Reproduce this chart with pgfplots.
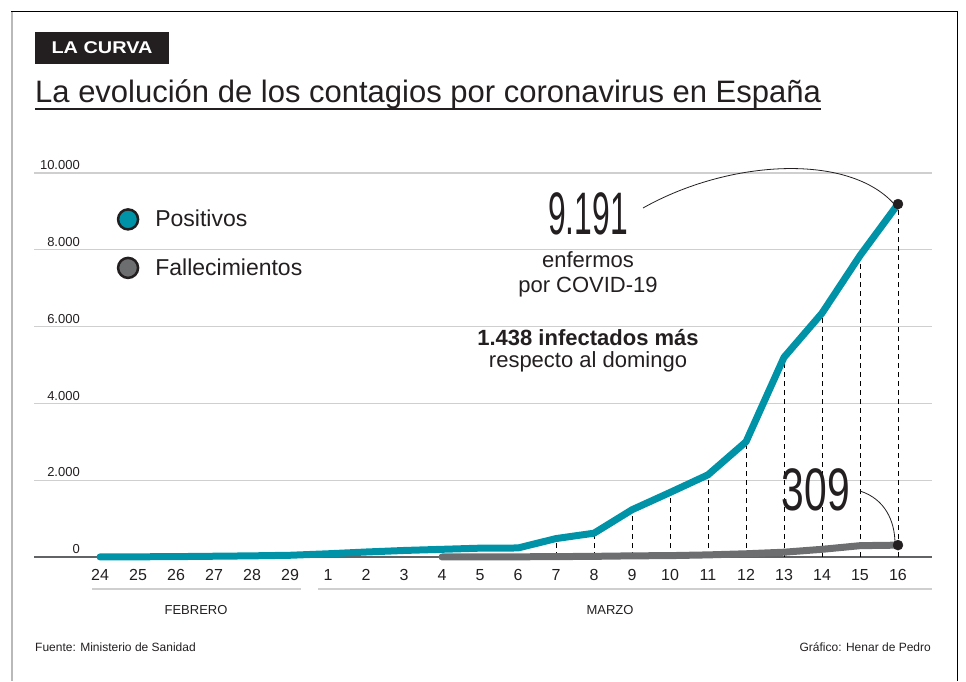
\documentclass[border=0pt]{standalone}
\usepackage{fontspec}
\setmainfont{Liberation Sans}
\usepackage{pgfplots}
\pgfplotsset{compat=1.18}
\definecolor{teal1}{HTML}{0093A7}
\definecolor{gris}{HTML}{6D6E70}
\definecolor{txt}{HTML}{231F20}
\definecolor{grid}{HTML}{CFCFCF}
\begin{document}
\begin{tikzpicture}[x=1pt,y=1pt]
\useasboundingbox (0,0) rectangle (966,681);
% frame
\draw[gray!55, line width=2pt] (12,670) -- (12,0);
\draw[black, line width=1pt] (11,669) -- (957,669) -- (957,0);
% header
\fill[txt] (35,617) rectangle (169,649);
\node[anchor=base, text=white, inner sep=0pt] at (102,627) {\scalebox{1.17}[1]{\bfseries\fontsize{17}{17}\selectfont LA CURVA}};
\node[anchor=base west, inner sep=0pt, text=txt, font=\fontsize{31}{31}\selectfont] (t) at (35,578) {La evolución de los contagios por coronavirus en España};
\draw[txt, line width=2pt] ([yshift=-6pt]t.base west) -- ([yshift=-6pt]t.base east);
\begin{axis}[
  at={(34pt,124pt)}, anchor=south west, scale only axis,
  width=898pt, height=384pt,
  xmin=-1.737, xmax=21.895, ymin=0, ymax=10000,
  clip=false, axis line style={draw=none},
  scaled y ticks=false,
  ymajorgrids, grid style={draw=grid, line width=1.3pt},
  ytick={0,2000,4000,6000,8000,10000},
  yticklabels={0,2.000,4.000,6.000,8.000,10.000},
  yticklabel style={anchor=south east, inner sep=0pt, xshift=46pt, yshift=3pt, text=txt, font=\fontsize{13}{13}\selectfont},
  xtick={0,...,21},
  xticklabels={24,25,26,27,28,29,1,2,3,4,5,6,7,8,9,10,11,12,13,14,15,16},
  xticklabel style={anchor=north, inner sep=0pt, yshift=-12pt, text=txt, font=\fontsize{16}{16}\selectfont},
  major tick length=0pt,
  legend style={at={(0.092,0.909)}, anchor=north west, draw=none, fill=none, font=\fontsize{23}{23}\selectfont, text=txt, row sep=26pt, inner sep=0pt,
    nodes={inner xsep=0pt}},
  legend cell align=left,
  /tikz/every odd column/.append style={column sep=16pt},
]
% baseline
\draw[gris!90!black, line width=1.3pt] (axis cs:-1.737,0) -- (axis cs:21.895,0);
% dashed drop lines
\addplot[ycomb, black, line width=0.9pt, dash pattern=on 5pt off 4pt, forget plot] coordinates {
(12,480) (13,620) (14,1230) (15,1680) (16,2140) (17,3000) (18,5200) (19,6350) (20,7850) (21,9191)};
\addplot[teal1, line width=7pt, line cap=round, line join=round,
  legend image code/.code={\draw[fill=teal1, draw=txt, line width=2.5pt] (0cm,0cm) circle (10pt);}] coordinates {
(0,2) (1,5) (2,10) (3,20) (4,30) (5,45) (6,84) (7,130) (8,170) (9,200) (10,230) (11,235)
(12,480) (13,620) (14,1230) (15,1680) (16,2140) (17,3000) (18,5200) (19,6350) (20,7850) (21,9191)};
\addlegendentry{Positivos}
\addplot[gris, line width=7pt, line cap=round, line join=round,
  legend image code/.code={\draw[fill=gris, draw=txt, line width=2.5pt] (0cm,0cm) circle (10pt);}] coordinates {
(9,1) (10,3) (11,5) (12,10) (13,17) (14,30) (15,36) (16,55) (17,84) (18,125) (19,200) (20,295) (21,309)};
\addlegendentry{Fallecimientos}
\addplot[only marks, mark=*, mark size=5pt, mark options={fill=txt, draw=txt}, forget plot] coordinates {(21,9191) (21,309)};
\end{axis}
% month separators
\draw[grid, line width=1.3pt] (92,92) -- (301,92);
\draw[grid, line width=1.3pt] (318,92) -- (932,92);
\node[anchor=base, text=txt, font=\fontsize{13}{13}\selectfont, inner sep=0pt] at (196,67) {FEBRERO};
\node[anchor=base, text=txt, font=\fontsize{13}{13}\selectfont, inner sep=0pt] at (610,67) {MARZO};
% footer
\node[anchor=base west, text=txt, font=\fontsize{12}{12}\selectfont, inner sep=0pt] at (35,30) {Fuente: Ministerio de Sanidad};
\node[anchor=base east, text=txt, font=\fontsize{12}{12}\selectfont, inner sep=0pt] at (931,30) {Gráfico: Henar de Pedro};
% annotations
\node[anchor=base, text=txt, inner sep=0pt] at (588,446) {\scalebox{0.53}[1]{\fontsize{60}{60}\selectfont 9.191}};
\node[anchor=base, text=txt, font=\fontsize{22}{24}\selectfont, inner sep=0pt] at (588,413) {enfermos};
\node[anchor=base, text=txt, font=\fontsize{22}{24}\selectfont, inner sep=0pt] at (588,388) {por COVID-19};
\node[anchor=base, text=txt, font=\bfseries\fontsize{22}{24}\selectfont, inner sep=0pt] at (588,336) {1.438 infectados más};
\node[anchor=base, text=txt, font=\fontsize{22}{24}\selectfont, inner sep=0pt] at (588,314) {respecto al domingo};
\node[anchor=base, text=txt, inner sep=0pt] at (816,171) {\scalebox{0.68}[1]{\fontsize{60}{60}\selectfont 309}};
\draw[txt, line width=0.8pt] (643,473) .. controls (730,522) and (850,528) .. (895,476);
\draw[txt, line width=0.8pt] (860,190) .. controls (885,182) and (895,160) .. (895,137);
\end{tikzpicture}
\end{document}
